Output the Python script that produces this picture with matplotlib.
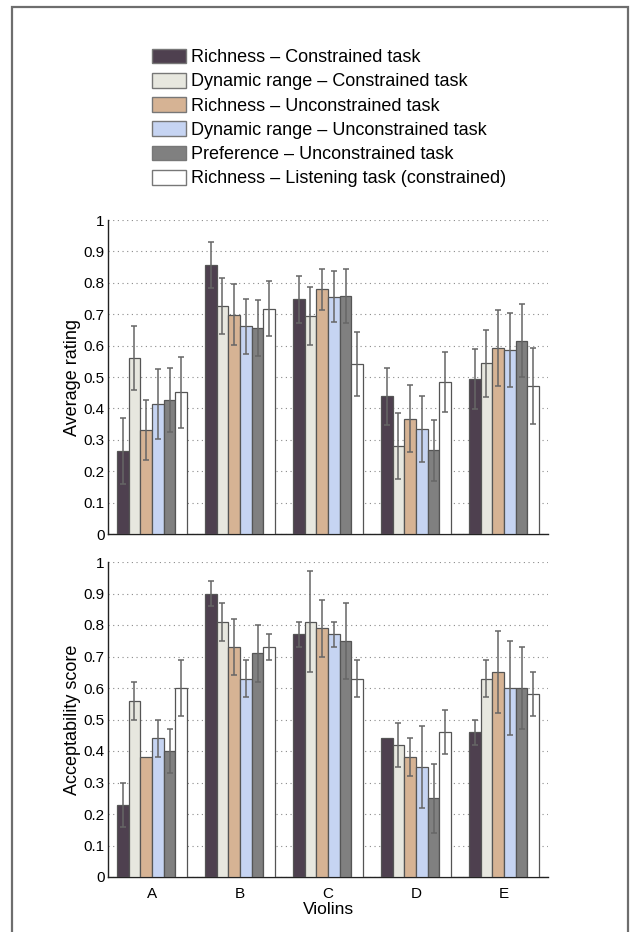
import matplotlib
matplotlib.use("Agg")
import matplotlib.pyplot as plt
from matplotlib.patches import Rectangle, Patch
import numpy as np

plt.rcParams['font.family'] = ['Liberation Sans', 'DejaVu Sans']

violins = ['A', 'B', 'C', 'D', 'E']
series = ['Richness \u2013 Constrained task',
          'Dynamic range \u2013 Constrained task',
          'Richness \u2013 Unconstrained task',
          'Dynamic range \u2013 Unconstrained task',
          'Preference \u2013 Unconstrained task',
          'Richness \u2013 Listening task (constrained)']
colors = ['#4e404f', '#e7e7df', '#d6b394', '#c6d4f2', '#808080', '#ffffff']

# Top panel: Average rating (rows = series, cols = violins A..E)
rating = [
    [0.265, 0.856, 0.747, 0.438, 0.494],
    [0.561, 0.726, 0.694, 0.279, 0.543],
    [0.331, 0.698, 0.779, 0.367, 0.592],
    [0.414, 0.661, 0.756, 0.334, 0.585],
    [0.426, 0.656, 0.758, 0.267, 0.615],
    [0.451, 0.718, 0.541, 0.484, 0.471],
]
rating_err = [
    [0.105, 0.073, 0.074, 0.092, 0.096],
    [0.103, 0.088, 0.092, 0.105, 0.108],
    [0.096, 0.097, 0.066, 0.107, 0.120],
    [0.110, 0.087, 0.080, 0.105, 0.118],
    [0.102, 0.090, 0.087, 0.097, 0.116],
    [0.113, 0.088, 0.101, 0.096, 0.120],
]

# Bottom panel: Acceptability score
accept = [
    [0.23, 0.90, 0.77, 0.44, 0.46],
    [0.56, 0.81, 0.81, 0.42, 0.63],
    [0.38, 0.73, 0.79, 0.38, 0.65],
    [0.44, 0.63, 0.77, 0.35, 0.60],
    [0.40, 0.71, 0.75, 0.25, 0.60],
    [0.60, 0.73, 0.63, 0.46, 0.58],
]
accept_err = [
    [0.07, 0.04, 0.04, 0.00, 0.04],
    [0.06, 0.06, 0.16, 0.07, 0.06],
    [0.00, 0.09, 0.09, 0.06, 0.13],
    [0.06, 0.06, 0.04, 0.13, 0.15],
    [0.07, 0.09, 0.12, 0.11, 0.13],
    [0.09, 0.04, 0.06, 0.07, 0.07],
]

yticks = [0, 0.1, 0.2, 0.3, 0.4, 0.5, 0.6, 0.7, 0.8, 0.9, 1]
yticklabels = ['0', '0.1', '0.2', '0.3', '0.4', '0.5', '0.6', '0.7', '0.8', '0.9', '1']

W, H = 635, 932
fig = plt.figure(figsize=(W / 100, H / 100), dpi=100)

def px_axes(x0, y0, x1, y1):
    return fig.add_axes([x0 / W, 1 - y1 / H, (x1 - x0) / W, (y1 - y0) / H])

ax1 = px_axes(108, 220, 548, 534)
ax2 = px_axes(108, 562, 548, 877)

x = np.arange(1, len(violins) + 1)
n = len(series)
bw = 0.8 / n

def draw(ax, vals, errs, ylabel, show_x):
    for i in range(n):
        pos = x + (i - (n - 1) / 2) * bw
        ax.bar(pos, vals[i], width=bw, color=colors[i], edgecolor='#555555',
               linewidth=0.9, zorder=3)
        e = np.array(errs[i])
        mask = e > 0
        ax.errorbar(pos[mask], np.array(vals[i])[mask], yerr=e[mask], fmt='none',
                    ecolor='#666666', elinewidth=1.1, capsize=2.4, capthick=1.1,
                    zorder=4)
    ax.set_xlim(0.5, 5.5)
    ax.set_ylim(0, 1)
    ax.set_yticks(yticks)
    ax.set_yticklabels(yticklabels)
    ax.yaxis.grid(True, linestyle=(0, (1, 3.2)), color='#8a8a8a', linewidth=0.8, zorder=0)
    ax.set_axisbelow(True)
    for s in ['top', 'right']:
        ax.spines[s].set_visible(False)
    for s in ['left', 'bottom']:
        ax.spines[s].set_color('#222222')
        ax.spines[s].set_linewidth(1.0)
    ax.tick_params(axis='both', length=0, labelsize=11, pad=2.5)
    ax.set_xticks(x)
    if show_x:
        ax.set_xticklabels(violins)
        ax.tick_params(axis='x', pad=7)
        ax.set_xlabel('Violins', fontsize=12.5, labelpad=1)
    else:
        ax.set_xticklabels([])
    ax.set_ylabel(ylabel, fontsize=13, labelpad=2)

draw(ax1, rating, rating_err, 'Average rating', False)
draw(ax2, accept, accept_err, 'Acceptability score', True)

handles = [Patch(facecolor=c, edgecolor='#777777', linewidth=1.0) for c in colors]
fig.legend(handles, series, loc='upper left', bbox_to_anchor=(152 / W, 1 - 48.5 / H),
           frameon=False, fontsize=13, handlelength=1.89, handleheight=0.89,
           labelspacing=0.365, handletextpad=0.28, borderpad=0, borderaxespad=0)

border = Rectangle((12 / W, -0.02), (628 - 12) / W, 1 - 7 / H + 0.02,
                   transform=fig.transFigure, fill=False, edgecolor='#6e6e6e',
                   linewidth=1.6, clip_on=False)
fig.patches.append(border)

fig.savefig('out.png', dpi=100)
